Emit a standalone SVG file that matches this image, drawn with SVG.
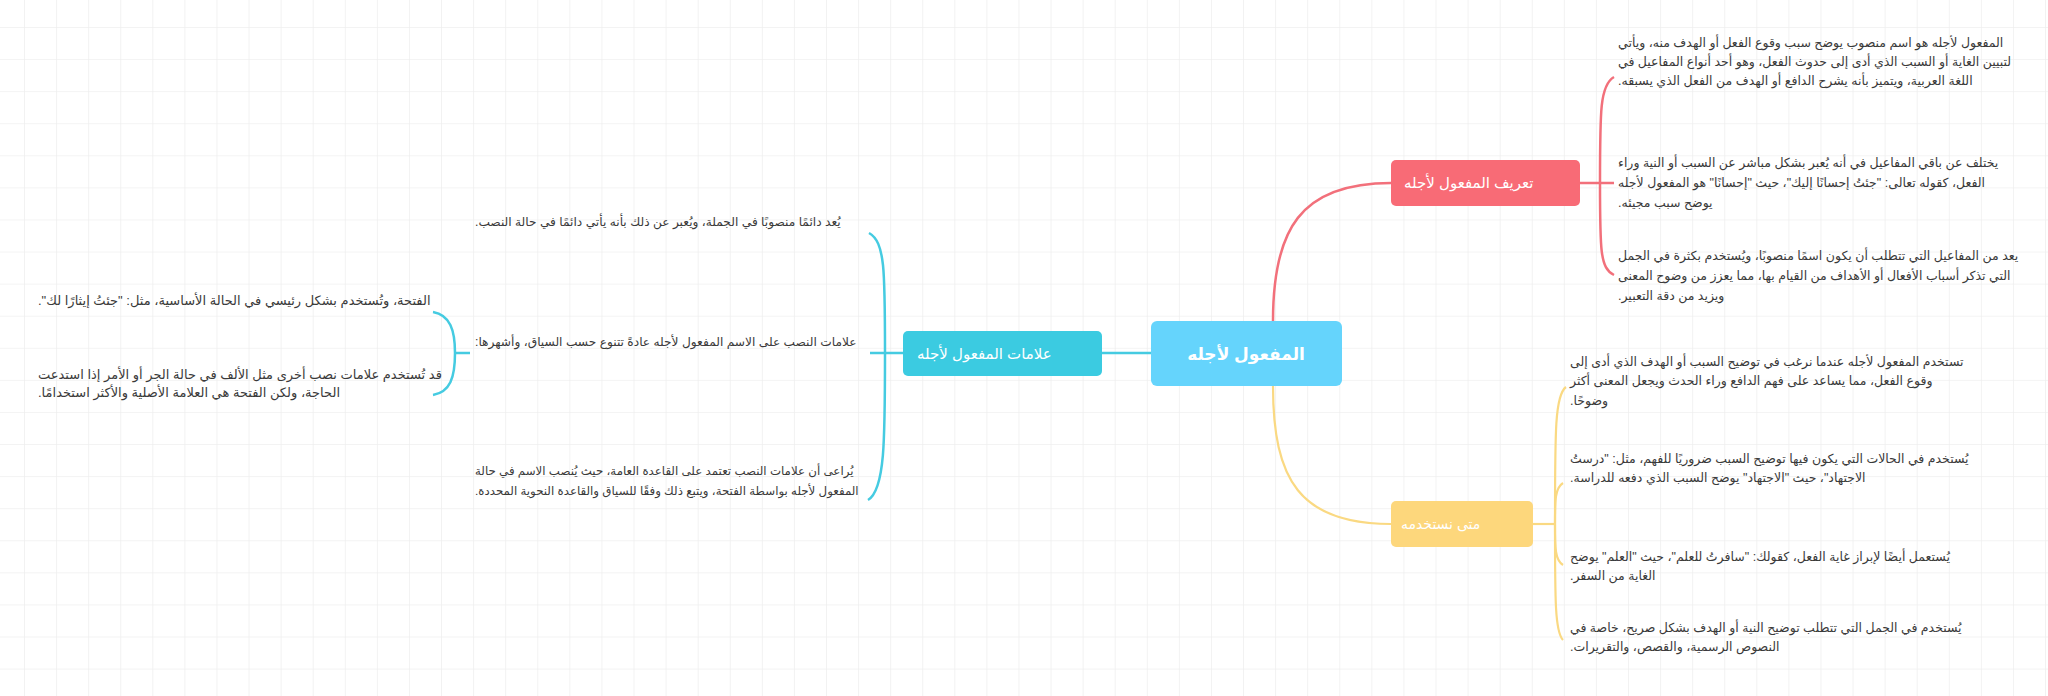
<svg xmlns="http://www.w3.org/2000/svg" width="2048" height="696" viewBox="0 0 2048 696">
<defs>
<pattern id="grid" x="24" y="27" width="32.08" height="32.08" patternUnits="userSpaceOnUse">
<path d="M0 0 H32.08 M0 0 V32.08" fill="none" stroke="#efefef" stroke-width="1.6"/>
</pattern>
<style>
text { font-family: "Liberation Sans", "DejaVu Sans", sans-serif; }
.lf { font-size: 12.5px; fill: #3a3a3a; direction: rtl; text-anchor: end; }
.lc { font-size: 12.2px; }
.ls { font-size: 11.8px; }
.lo { font-size: 13px; }
.nt { font-size: 15px; fill: #ffffff; direction: rtl; text-anchor: end; }
.rt { font-size: 17px; fill: #ffffff; font-weight: bold; text-anchor: middle; }
.cr { fill: none; stroke: #f2707b; stroke-width: 2.5; }
.cy { fill: none; stroke: #fad982; stroke-width: 2.2; }
.cc { fill: none; stroke: #45cbe1; stroke-width: 2.5; }
</style>
</defs>
<rect width="2048" height="696" fill="#ffffff"/>
<rect width="2048" height="696" fill="url(#grid)"/>

<g id="connectors">
<line class="cc" x1="1102" y1="353" x2="1151" y2="353" stroke-width="3.5"/>
<path class="cr" d="M1273,321 C1273,230 1300,183 1391,183" stroke-width="3"/>
<path class="cy" d="M1273,386 C1273,480 1300,524 1391,524" stroke-width="2.8"/>
<path class="cr" d="M1580,183 L1614,183"/>
<path class="cr" d="M1600,183 C1600,110 1600,85 1614,77"/>
<path class="cr" d="M1600,183 C1600,250 1600,268 1614,275"/>
<path class="cy" d="M1533,524 L1555,524"/>
<path class="cy" d="M1555,524 C1555,430 1555,395 1566,387"/>
<path class="cy" d="M1555,524 C1555,500 1555,488 1563,483"/>
<path class="cy" d="M1555,524 C1555,548 1555,560 1563,565"/>
<path class="cy" d="M1555,524 C1555,600 1555,632 1563,640"/>
<path class="cc" d="M903,353 L870,353"/>
<path class="cc" d="M885,353 C885,270 885,242 869,233"/>
<path class="cc" d="M885,353 C885,440 885,490 868,500"/>
<path class="cc" d="M470,353 L455,353"/>
<path class="cc" d="M455,353 C455,330 450,315 433,312"/>
<path class="cc" d="M455,353 C455,378 450,392 433,395"/>
</g>

<g id="root">
<rect x="1151" y="321" width="191" height="65" rx="6" fill="#65d4fc"/>
<text class="rt" x="1246" y="360">المفعول لأجله</text>
</g>

<g id="node-alamat">
<rect x="903" y="331" width="199" height="45" rx="5" fill="#3bcbe1"/>
<text class="nt" x="917" y="359">علامات المفعول لأجله</text>
</g>

<g id="node-tarif">
<rect x="1391" y="160" width="189" height="46" rx="5" fill="#f86b76"/>
<text class="nt" x="1404" y="188">تعريف المفعول لأجله</text>
</g>

<g id="node-mata">
<rect x="1391" y="501" width="142" height="46" rx="5" fill="#fdd77c"/>
<text class="nt" x="1401" y="529" style="font-size:14px">متى نستخدمه</text>
</g>

<g id="leaf-tarif-1">
<text class="lf" x="1618" y="47">المفعول لأجله هو اسم منصوب يوضح سبب وقوع الفعل أو الهدف منه، ويأتي</text>
<text class="lf" x="1618" y="66">لتبيين الغاية أو السبب الذي أدى إلى حدوث الفعل، وهو أحد أنواع المفاعيل في</text>
<text class="lf" x="1618" y="85">اللغة العربية، ويتميز بأنه يشرح الدافع أو الهدف من الفعل الذي يسبقه.</text>
</g>
<g id="leaf-tarif-2">
<text class="lf" x="1618" y="167">يختلف عن باقي المفاعيل في أنه يُعبر بشكل مباشر عن السبب أو النية وراء</text>
<text class="lf" x="1618" y="187">الفعل، كقوله تعالى: "جئتُ إحسانًا إليك"، حيث "إحسانًا" هو المفعول لأجله</text>
<text class="lf" x="1618" y="207">يوضح سبب مجيئه.</text>
</g>
<g id="leaf-tarif-3">
<text class="lf" x="1618" y="260">يعد من المفاعيل التي تتطلب أن يكون اسمًا منصوبًا، ويُستخدم بكثرة في الجمل</text>
<text class="lf" x="1618" y="280">التي تذكر أسباب الأفعال أو الأهداف من القيام بها، مما يعزز من وضوح المعنى</text>
<text class="lf" x="1618" y="300">ويزيد من دقة التعبير.</text>
</g>

<g id="leaf-mata-1">
<text class="lf" x="1570" y="366">تستخدم المفعول لأجله عندما نرغب في توضيح السبب أو الهدف الذي أدى إلى</text>
<text class="lf" x="1570" y="385">وقوع الفعل، مما يساعد على فهم الدافع وراء الحدث ويجعل المعنى أكثر</text>
<text class="lf" x="1570" y="405">وضوحًا.</text>
</g>
<g id="leaf-mata-2">
<text class="lf" x="1570" y="463">يُستخدم في الحالات التي يكون فيها توضيح السبب ضروريًا للفهم، مثل: "درستُ</text>
<text class="lf" x="1570" y="482">الاجتهاد"، حيث "الاجتهاد" يوضح السبب الذي دفعه للدراسة.</text>
</g>
<g id="leaf-mata-3">
<text class="lf" x="1570" y="561">يُستعمل أيضًا لإبراز غاية الفعل، كقولك: "سافرتُ للعلم"، حيث "العلم" يوضح</text>
<text class="lf" x="1570" y="580">الغاية من السفر.</text>
</g>
<g id="leaf-mata-4">
<text class="lf" x="1570" y="632">يُستخدم في الجمل التي تتطلب توضيح النية أو الهدف بشكل صريح، خاصة في</text>
<text class="lf" x="1570" y="651">النصوص الرسمية، والقصص، والتقريرات.</text>
</g>

<g id="leaf-alamat-1">
<text class="lf lc" x="475" y="226">يُعد دائمًا منصوبًا في الجملة، ويُعبر عن ذلك بأنه يأتي دائمًا في حالة النصب.</text>
</g>
<g id="leaf-alamat-2">
<text class="lf lc" x="475" y="346">علامات النصب على الاسم المفعول لأجله عادةً تتنوع حسب السياق، وأشهرها:</text>
</g>
<g id="leaf-alamat-3">
<text class="lf ls" x="475" y="475">يُراعى أن علامات النصب تعتمد على القاعدة العامة، حيث يُنصب الاسم في حالة</text>
<text class="lf ls" x="475" y="495">المفعول لأجله بواسطة الفتحة، ويتبع ذلك وفقًا للسياق والقاعدة النحوية المحددة.</text>
</g>
<g id="leaf-fatha">
<text class="lf lo" x="38" y="305">الفتحة، وتُستخدم بشكل رئيسي في الحالة الأساسية، مثل: "جئتُ إيثارًا لك".</text>
</g>
<g id="leaf-other">
<text class="lf lo" x="38" y="379">قد تُستخدم علامات نصب أخرى مثل الألف في حالة الجر أو الأمر إذا استدعت</text>
<text class="lf lo" x="38" y="397">الحاجة، ولكن الفتحة هي العلامة الأصلية والأكثر استخدامًا.</text>
</g>
</svg>
